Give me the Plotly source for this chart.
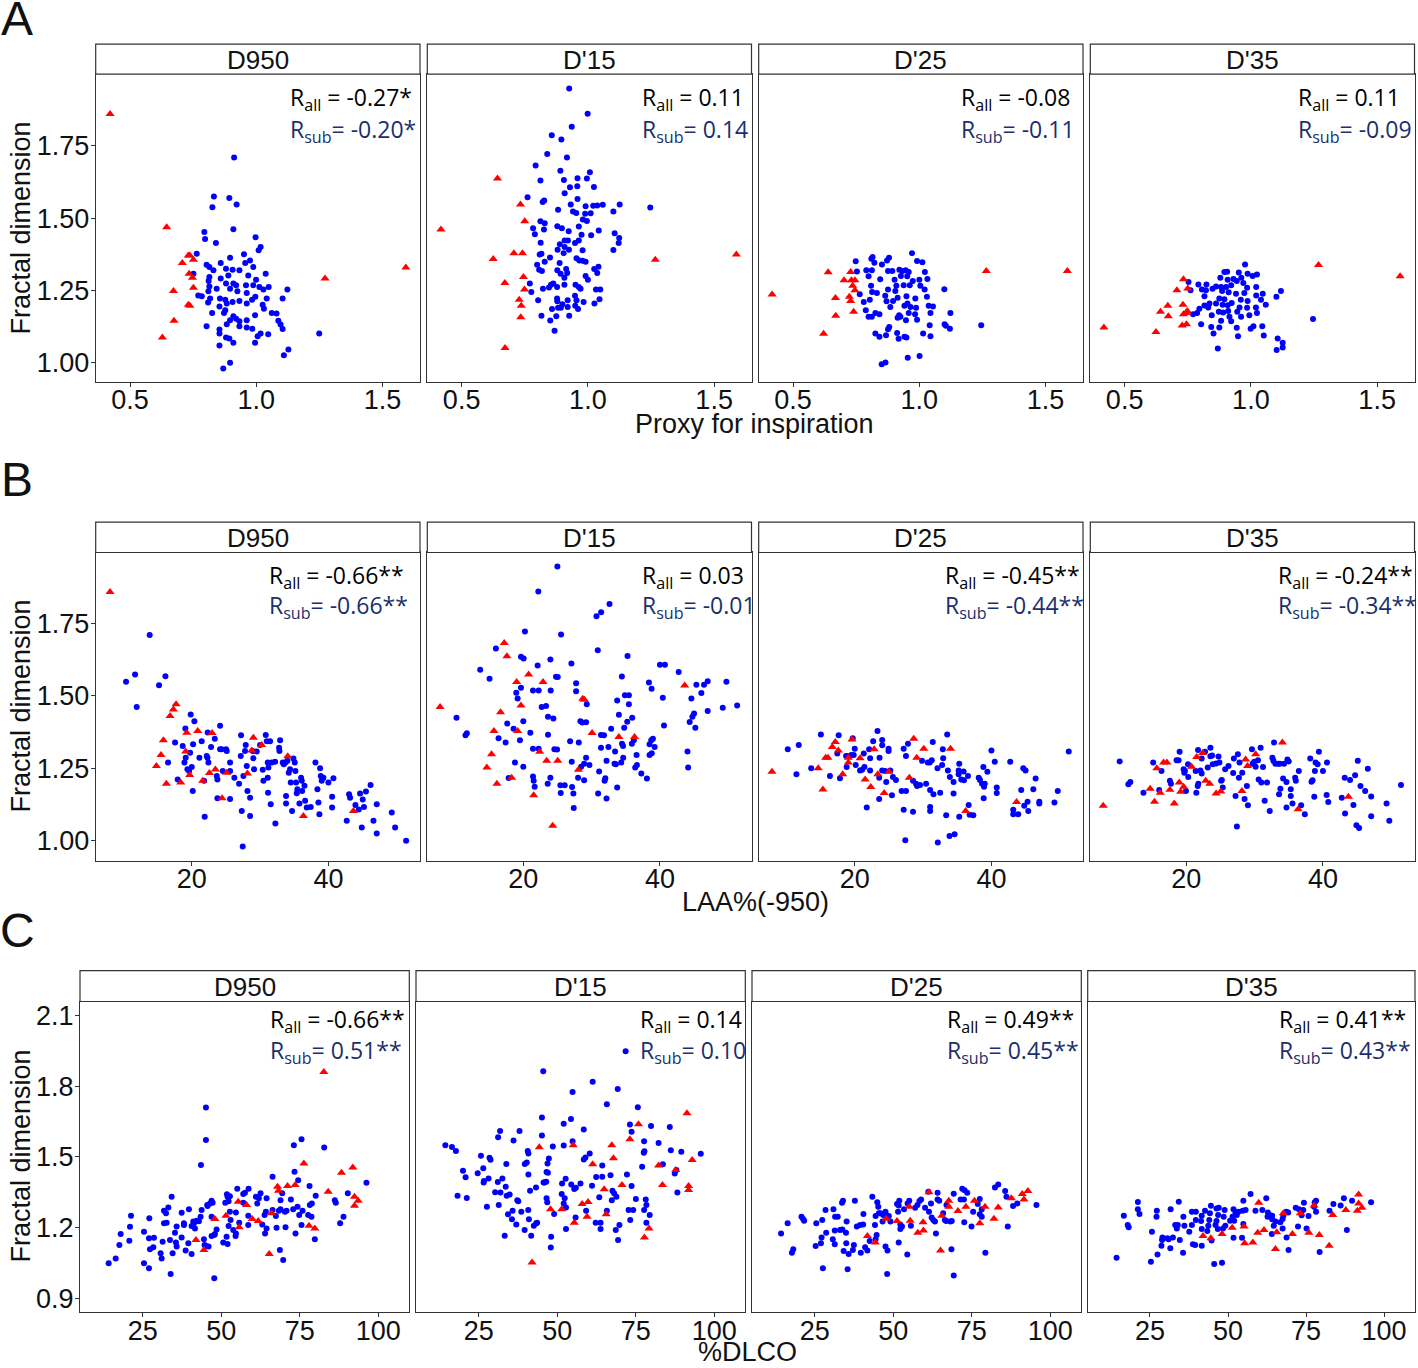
import plotly.graph_objects as go

W, H = 1418, 1368

# ---------------- data (x, fractal dimension) ----------------
A1_BLUE = [(0.912,1.710),(0.832,1.575),(0.893,1.570),(0.826,1.538),(0.922,1.547),(0.909,1.462),(0.794,1.452),(0.797,1.428),(0.840,1.414),(0.997,1.434),(1.017,1.400),(1.009,1.389),(0.764,1.377),(0.951,1.375),(0.896,1.363),(0.975,1.354),(0.956,1.345),(0.859,1.345),(0.803,1.339),(0.814,1.331),(0.751,1.308),(0.880,1.325),(0.906,1.322),(0.933,1.320),(0.988,1.331),(1.037,1.308),(0.830,1.320),(0.889,1.302),(0.814,1.297),(0.859,1.291),(0.968,1.302),(0.999,1.287),(0.811,1.283),(0.909,1.274),(0.920,1.268),(0.959,1.268),(0.814,1.264),(0.880,1.274),(0.988,1.268),(1.012,1.262),(1.049,1.262),(0.843,1.256),(0.896,1.256),(1.123,1.253),(0.810,1.247),(0.925,1.247),(0.962,1.241),(1.028,1.253),(0.996,1.228),(0.770,1.233),(0.784,1.230),(0.817,1.222),(0.877,1.218),(0.856,1.222),(0.933,1.214),(0.983,1.218),(1.041,1.222),(1.104,1.222),(0.883,1.205),(0.906,1.210),(0.962,1.205),(1.025,1.201),(0.809,1.208),(0.854,1.195),(1.030,1.187),(0.877,1.182),(1.061,1.172),(1.080,1.170),(0.825,1.172),(0.872,1.172),(0.995,1.164),(0.909,1.161),(0.962,1.147),(0.896,1.147),(0.920,1.152),(0.933,1.144),(1.087,1.145),(1.096,1.132),(0.883,1.133),(0.933,1.126),(0.962,1.122),(0.803,1.126),(0.984,1.118),(0.854,1.115),(1.104,1.117),(0.854,1.101),(1.017,1.101),(1.047,1.099),(1.005,1.092),(0.880,1.087),(0.893,1.084),(0.995,1.069),(0.909,1.069),(0.854,1.060),(1.249,1.101),(1.127,1.046),(1.109,1.026),(0.896,1.000),(0.869,0.980)]
A1_RED = [(0.421,1.860),(0.645,1.469),(0.737,1.371),(0.731,1.371),(0.707,1.345),(0.751,1.356),(0.734,1.308),(0.747,1.294),(0.672,1.248),(0.751,1.259),(0.731,1.201),(0.737,1.197),(0.674,1.145),(0.628,1.087),(1.272,1.291),(1.592,1.329)]

A2_BLUE = [(0.926,1.948),(0.999,1.861),(0.936,1.816),(0.857,1.787),(0.895,1.772),(0.839,1.722),(0.917,1.710),(0.793,1.682),(0.891,1.664),(1.008,1.659),(0.812,1.630),(0.959,1.638),(0.996,1.637),(0.905,1.632),(0.929,1.607),(0.958,1.610),(1.024,1.608),(0.908,1.586),(0.761,1.572),(0.827,1.561),(0.821,1.556),(0.959,1.566),(0.932,1.547),(0.991,1.541),(1.021,1.543),(1.037,1.544),(1.059,1.546),(1.126,1.547),(1.247,1.537),(0.882,1.529),(0.941,1.523),(0.954,1.518),(0.989,1.515),(1.011,1.517),(1.101,1.523),(0.980,1.495),(0.996,1.490),(0.812,1.489),(0.829,1.482),(0.879,1.472),(0.964,1.471),(0.897,1.465),(0.783,1.465),(0.924,1.455),(1.043,1.457),(0.826,1.461),(1.106,1.448),(0.790,1.444),(0.975,1.443),(1.013,1.441),(1.124,1.431),(0.964,1.423),(1.122,1.414),(0.813,1.415),(0.889,1.410),(0.908,1.423),(0.921,1.423),(0.908,1.400),(0.925,1.391),(0.949,1.414),(0.979,1.389),(1.101,1.390),(0.809,1.374),(0.816,1.377),(0.880,1.391),(0.904,1.379),(0.850,1.364),(0.955,1.361),(0.966,1.354),(0.979,1.353),(0.991,1.349),(0.829,1.349),(0.799,1.339),(0.888,1.345),(1.042,1.332),(0.807,1.322),(0.818,1.317),(0.879,1.320),(0.914,1.324),(1.025,1.324),(0.892,1.308),(0.907,1.294),(0.918,1.310),(0.991,1.300),(1.037,1.310),(1.000,1.287),(0.770,1.274),(0.854,1.270),(0.863,1.274),(0.878,1.262),(0.907,1.270),(0.951,1.270),(0.964,1.262),(0.822,1.256),(0.846,1.260),(0.776,1.245),(0.971,1.256),(1.032,1.253),(1.049,1.253),(0.949,1.232),(0.878,1.222),(0.803,1.216),(0.879,1.213),(0.920,1.216),(0.955,1.216),(0.983,1.210),(1.046,1.220),(1.026,1.205),(0.899,1.202),(0.882,1.190),(0.920,1.193),(0.950,1.197),(0.858,1.186),(0.893,1.190),(0.961,1.186),(0.816,1.163),(0.875,1.161),(0.926,1.163),(0.851,1.146),(0.868,1.111)]
A2_RED = [(0.418,1.461),(0.642,1.637),(0.733,1.547),(0.750,1.489),(0.707,1.379),(0.741,1.379),(0.625,1.359),(0.745,1.297),(0.671,1.276),(0.749,1.253),(0.728,1.218),(0.736,1.197),(0.734,1.157),(0.672,1.051),(1.267,1.356),(1.588,1.374)]

A3_BLUE = [(0.971,1.379),(0.815,1.366),(0.880,1.363),(0.810,1.360),(0.748,1.351),(0.991,1.352),(1.012,1.348),(0.822,1.346),(0.852,1.340),(0.872,1.354),(0.790,1.320),(0.812,1.320),(0.876,1.317),(0.893,1.317),(0.921,1.322),(0.946,1.320),(0.958,1.314),(0.933,1.317),(1.022,1.314),(0.753,1.316),(0.799,1.299),(0.927,1.300),(0.952,1.299),(0.845,1.289),(0.902,1.287),(0.974,1.283),(1.000,1.287),(1.032,1.290),(0.809,1.266),(0.909,1.266),(0.938,1.268),(0.962,1.268),(1.004,1.266),(0.764,1.237),(0.813,1.245),(0.832,1.241),(0.876,1.253),(0.905,1.248),(1.021,1.253),(1.099,1.254),(0.865,1.232),(0.914,1.225),(0.949,1.230),(0.984,1.222),(1.030,1.228),(0.870,1.213),(0.896,1.214),(0.780,1.210),(0.804,1.218),(0.885,1.193),(0.941,1.197),(0.965,1.193),(0.953,1.205),(0.987,1.190),(1.037,1.197),(1.054,1.195),(0.788,1.182),(0.826,1.172),(0.842,1.168),(0.920,1.164),(0.958,1.172),(0.983,1.168),(1.044,1.172),(1.123,1.172),(0.799,1.159),(0.812,1.159),(0.914,1.156),(0.925,1.159),(0.947,1.147),(0.991,1.149),(1.100,1.133),(1.105,1.128),(1.121,1.118),(1.245,1.130),(1.041,1.130),(0.881,1.124),(0.876,1.116),(0.826,1.101),(0.842,1.090),(0.868,1.095),(0.912,1.103),(0.941,1.090),(0.949,1.087),(0.918,1.083),(1.015,1.101),(1.044,1.092),(0.954,1.017),(1.001,1.023),(0.851,0.995),(0.866,1.001)]
A3_RED = [(0.417,1.236),(0.639,1.313),(0.728,1.314),(0.702,1.285),(0.731,1.285),(0.745,1.285),(0.736,1.266),(0.745,1.251),(0.668,1.224),(0.723,1.228),(0.728,1.214),(0.740,1.176),(0.669,1.163),(0.621,1.100),(1.265,1.317),(1.586,1.317)]

A4_BLUE = [(0.977,1.340),(0.895,1.314),(0.906,1.315),(0.952,1.312),(0.987,1.308),(1.024,1.305),(1.007,1.300),(0.879,1.294),(0.908,1.287),(0.931,1.290),(0.944,1.283),(0.962,1.294),(0.753,1.279),(0.792,1.271),(0.824,1.271),(0.862,1.264),(0.882,1.262),(0.902,1.262),(0.922,1.268),(0.970,1.276),(0.985,1.259),(1.021,1.262),(0.806,1.253),(0.822,1.251),(0.848,1.256),(0.886,1.248),(0.912,1.244),(0.941,1.239),(0.974,1.241),(1.047,1.239),(1.119,1.248),(0.761,1.251),(0.816,1.230),(0.875,1.222),(0.895,1.220),(0.960,1.218),(0.987,1.214),(1.021,1.233),(1.040,1.218),(1.101,1.228),(0.836,1.205),(0.862,1.205),(0.888,1.201),(0.908,1.199),(0.924,1.207),(1.059,1.201),(0.816,1.198),(0.796,1.187),(0.831,1.191),(0.955,1.191),(0.985,1.190),(1.020,1.191),(0.873,1.176),(0.890,1.174),(0.910,1.179),(0.946,1.176),(0.771,1.168),(0.787,1.172),(0.845,1.164),(0.915,1.159),(0.961,1.159),(0.994,1.164),(1.024,1.172),(0.803,1.133),(0.882,1.145),(0.922,1.144),(0.843,1.124),(0.875,1.122),(0.944,1.121),(0.999,1.118),(1.010,1.126),(1.045,1.126),(0.852,1.101),(0.949,1.092),(1.051,1.094),(1.246,1.151),(1.106,1.084),(1.126,1.069),(1.126,1.053),(1.102,1.044),(0.869,1.049)]
A4_RED = [(0.418,1.122),(0.624,1.106),(0.642,1.176),(0.673,1.161),(0.671,1.197),(0.707,1.251),(0.733,1.289),(0.750,1.257),(0.731,1.201),(0.733,1.168),(0.744,1.172),(0.748,1.179),(0.728,1.129),(0.745,1.133),(1.268,1.338),(1.591,1.299)]

B1_BLUE = [(13.85,1.710),(11.71,1.574),(10.39,1.549),(11.95,1.462),(15.22,1.537),(16.15,1.568),(16.54,1.270),(17.56,1.339),(17.95,1.212),(18.68,1.327),(18.93,1.270),(19.07,1.388),(19.12,1.287),(19.37,1.247),(19.61,1.241),(19.85,1.436),(19.76,1.304),(20.00,1.255),(20.20,1.333),(20.15,1.172),(20.39,1.413),(21.12,1.287),(21.46,1.344),(21.80,1.207),(21.90,1.083),(22.20,1.293),(22.30,1.287),(22.34,1.374),(22.44,1.270),(22.83,1.324),(23.37,1.352),(23.66,1.224),(23.76,1.212),(23.76,1.147),(24.15,1.397),(24.15,1.316),(24.39,1.316),(24.54,1.241),(25.02,1.316),(25.12,1.310),(25.61,1.270),(25.61,1.241),(25.61,1.144),(26.24,1.218),(26.93,1.197),(27.17,1.293),(27.22,1.364),(27.32,1.103),(27.46,0.980),(27.56,1.224),(27.80,1.310),(27.90,1.331),(28.05,1.258),(28.15,1.172),(28.54,1.149),(28.54,1.086),(28.93,1.310),(29.02,1.285),(29.12,1.247),(29.51,1.308),(30.00,1.331),(30.39,1.245),(30.49,1.207),(30.83,1.365),(30.98,1.344),(31.12,1.270),(31.12,1.218),(31.17,1.166),(31.22,1.253),(31.46,1.344),(31.56,1.126),(31.71,1.270),(32.20,1.273),(32.24,1.060),(32.78,1.321),(32.83,1.310),(32.93,1.347),(33.32,1.270),(33.46,1.264),(33.71,1.270),(33.80,1.155),(33.80,1.129),(34.00,1.276),(34.20,1.235),(34.39,1.247),(34.49,1.201),(34.68,1.103),(34.88,1.284),(35.07,1.270),(35.17,1.241),(35.27,1.201),(35.37,1.164),(35.46,1.178),(35.76,1.129),(36.00,1.218),(36.10,1.207),(36.15,1.172),(36.49,1.190),(36.59,1.138),(36.83,1.115),(37.41,1.117),(38.10,1.270),(38.39,1.178),(38.54,1.132),(38.68,1.092),(38.78,1.250),(38.88,1.224),(39.02,1.207),(39.27,1.218),(40.00,1.201),(40.73,1.216),(40.54,1.152),(40.54,1.115),(42.68,1.069),(43.02,1.161),(43.17,1.149),(43.95,1.124),(44.44,1.108),(44.63,1.163),(45.02,1.143),(44.88,1.046),(45.20,1.117),(45.49,1.170),(46.17,1.193),(46.59,1.069),(47.07,1.025),(47.07,1.126),(49.27,1.098),(49.76,1.046),(51.37,1.000)]
B1_RED = [(8.05,1.859),(17.71,1.471),(17.32,1.453),(16.83,1.431),(15.85,1.347),(15.51,1.296),(14.83,1.258),(16.29,1.197),(19.27,1.373),(19.12,1.308),(20.88,1.379),(19.71,1.227),(21.61,1.207),(18.39,1.201),(22.98,1.372),(22.59,1.234),(23.46,1.246),(25.12,1.235),(24.44,1.147),(28.15,1.232),(28.78,1.312),(29.02,1.356),(30.24,1.331),(34.05,1.292),(36.34,1.086),(43.66,1.103)]

B2_BLUE = [(24.99,1.947),(22.20,1.860),(32.62,1.817),(31.39,1.789),(30.71,1.775),(20.24,1.722),(25.53,1.712),(15.99,1.664),(30.90,1.658),(19.66,1.635),(20.05,1.629),(23.96,1.626),(27.04,1.612),(35.26,1.638),(22.10,1.605),(40.00,1.608),(40.73,1.608),(13.69,1.590),(42.74,1.583),(24.79,1.566),(25.04,1.565),(15.06,1.559),(34.43,1.567),(27.73,1.544),(38.39,1.546),(21.42,1.519),(22.25,1.519),(24.01,1.519),(19.66,1.528),(18.97,1.511),(27.73,1.516),(38.78,1.525),(34.87,1.502),(35.45,1.502),(19.17,1.491),(29.29,1.471),(33.74,1.484),(40.42,1.494),(44.60,1.491),(45.33,1.539),(46.45,1.539),(46.99,1.551),(46.06,1.510),(49.73,1.549),(22.69,1.462),(23.33,1.465),(35.45,1.471),(49.19,1.459),(51.30,1.467),(46.99,1.448),(44.99,1.439),(44.75,1.428),(23.62,1.428),(24.40,1.422),(33.99,1.435),(35.94,1.425),(10.22,1.425),(28.36,1.413),(29.19,1.409),(28.65,1.408),(20.00,1.413),(17.65,1.405),(35.21,1.411),(44.35,1.410),(45.18,1.390),(40.59,1.398),(18.58,1.387),(32.86,1.387),(34.77,1.390),(11.74,1.371),(11.54,1.364),(21.03,1.373),(31.37,1.365),(31.81,1.364),(23.62,1.366),(16.38,1.354),(17.41,1.339),(19.51,1.347),(26.85,1.344),(34.45,1.335),(34.60,1.327),(36.18,1.347),(35.89,1.335),(38.97,1.352),(38.73,1.347),(38.48,1.333),(28.12,1.339),(21.42,1.318),(22.25,1.318),(24.55,1.316),(24.94,1.315),(31.37,1.321),(32.46,1.324),(39.22,1.324),(33.43,1.308),(44.03,1.308),(34.62,1.287),(38.80,1.302),(38.48,1.296),(34.33,1.270),(36.58,1.296),(29.19,1.287),(28.90,1.266),(27.09,1.273),(32.18,1.276),(18.78,1.270),(20.00,1.256),(28.46,1.256),(29.68,1.262),(33.35,1.266),(33.55,1.264),(36.63,1.262),(36.38,1.253),(44.13,1.253),(31.10,1.239),(37.27,1.232),(17.85,1.217),(21.42,1.222),(21.52,1.207),(23.96,1.218),(28.02,1.218),(28.90,1.209),(32.00,1.216),(31.90,1.207),(38.09,1.215),(23.57,1.197),(25.43,1.192),(26.06,1.192),(27.14,1.186),(33.74,1.184),(21.66,1.187),(25.48,1.165),(27.33,1.163),(30.95,1.163),(32.18,1.146),(27.38,1.113)]
B2_RED = [(7.82,1.462),(17.21,1.683),(17.60,1.637),(19.02,1.548),(20.78,1.574),(22.89,1.548),(19.66,1.467),(16.67,1.444),(15.70,1.379),(19.17,1.379),(15.35,1.299),(14.67,1.253),(16.14,1.197),(18.29,1.218),(22.40,1.307),(23.42,1.276),(25.04,1.276),(21.52,1.157),(24.30,1.052),(28.70,1.490),(28.95,1.487),(30.07,1.372),(28.07,1.245),(33.99,1.358),(36.28,1.358),(43.62,1.536)]

B3_BLUE = [(10.20,1.316),(11.81,1.331),(11.47,1.230),(13.63,1.250),(15.05,1.367),(16.37,1.224),(17.65,1.364),(17.45,1.301),(17.84,1.216),(18.73,1.293),(18.92,1.293),(19.71,1.354),(20.00,1.318),(19.85,1.296),(19.51,1.296),(18.82,1.255),(20.15,1.262),(20.78,1.243),(21.08,1.245),(21.42,1.255),(21.32,1.301),(22.11,1.316),(22.25,1.285),(22.25,1.243),(22.70,1.344),(23.33,1.379),(24.02,1.330),(24.02,1.348),(23.63,1.287),(23.58,1.218),(23.58,1.144),(21.76,1.115),(24.02,1.243),(24.46,1.241),(24.61,1.203),(24.95,1.318),(24.95,1.310),(25.20,1.243),(25.44,1.157),(26.03,1.210),(25.59,1.220),(27.16,1.318),(27.50,1.293),(27.79,1.335),(26.86,1.172),(27.50,1.172),(27.16,1.107),(28.53,1.100),(27.40,1.002),(28.53,1.207),(28.97,1.197),(29.12,1.189),(29.56,1.193),(30.44,1.197),(29.85,1.276),(30.69,1.270),(30.98,1.270),(31.42,1.341),(31.27,1.278),(31.03,1.175),(31.03,1.117),(31.03,1.103),(32.11,1.250),(32.79,1.262),(32.89,1.316),(32.94,1.285),(32.50,1.166),(31.52,1.161),(32.16,0.994),(33.53,1.367),(33.63,1.243),(33.92,1.220),(34.46,1.203),(34.46,1.163),(33.38,1.088),(33.87,1.017),(34.61,1.023),(35.29,1.266),(35.20,1.243),(35.20,1.230),(35.59,1.212),(35.93,1.239),(35.98,1.209),(36.57,1.224),(35.29,1.083),(36.67,1.124),(36.81,1.090),(37.35,1.088),(38.14,1.218),(38.33,1.210),(38.82,1.255),(38.63,1.197),(38.92,1.187),(39.02,1.197),(39.41,1.238),(38.87,1.147),(40.00,1.312),(40.49,1.273),(40.78,1.184),(40.78,1.165),(42.75,1.273),(43.19,1.107),(43.19,1.092),(43.92,1.092),(44.80,1.121),(44.66,1.250),(45.00,1.243),(45.29,1.135),(45.39,1.103),(44.36,1.175),(46.47,1.215),(46.13,1.178),(47.01,1.135),(47.01,1.129),(49.22,1.132),(49.71,1.172),(51.32,1.308)]
B3_RED = [(7.89,1.238),(15.34,1.177),(14.66,1.250),(15.74,1.287),(16.08,1.287),(16.72,1.324),(17.16,1.341),(17.60,1.312),(19.61,1.350),(19.07,1.287),(19.07,1.270),(18.24,1.230),(20.78,1.285),(22.84,1.316),(21.52,1.212),(22.35,1.186),(23.38,1.230),(24.31,1.165),(25.00,1.238),(27.99,1.218),(28.63,1.352),(30.10,1.318),(29.07,1.287),(34.02,1.318),(36.23,1.103),(43.68,1.134)]

B4_BLUE = [(10.25,1.274),(11.52,1.195),(11.81,1.203),(13.73,1.166),(15.15,1.270),(16.03,1.175),(16.37,1.241),(17.60,1.207),(17.75,1.197),(18.58,1.278),(18.87,1.278),(19.02,1.307),(19.61,1.247),(19.80,1.241),(19.71,1.235),(20.25,1.264),(19.95,1.172),(20.29,1.220),(21.37,1.241),(21.72,1.313),(21.67,1.189),(21.76,1.197),(22.06,1.243),(22.25,1.232),(22.25,1.284),(21.47,1.166),(22.75,1.307),(23.14,1.253),(23.53,1.321),(23.53,1.292),(23.77,1.294),(23.87,1.264),(24.36,1.267),(24.71,1.291),(24.85,1.270),(25.10,1.207),(25.20,1.210),(25.34,1.184),(25.69,1.247),(26.18,1.258),(26.96,1.284),(26.86,1.234),(27.21,1.155),(27.40,1.049),(27.55,1.299),(27.70,1.218),(27.79,1.270),(28.19,1.235),(28.53,1.144),(28.87,1.189),(29.02,1.123),(29.61,1.316),(29.71,1.266),(29.95,1.273),(30.15,1.256),(30.49,1.278),(30.88,1.321),(30.59,1.212),(30.98,1.201),(31.23,1.255),(31.47,1.138),(31.81,1.201),(32.21,1.103),(32.60,1.287),(32.84,1.339),(32.75,1.276),(33.04,1.266),(33.43,1.266),(33.68,1.266),(33.58,1.161),(33.77,1.180),(34.17,1.215),(34.31,1.266),(34.66,1.203),(34.80,1.281),(35.00,1.274),(34.66,1.115),(35.29,1.178),(35.29,1.155),(35.54,1.129),(35.93,1.218),(36.03,1.207),(36.81,1.123),(37.35,1.092),(36.47,1.241),(38.14,1.284),(38.33,1.204),(38.48,1.209),(38.82,1.241),(38.92,1.270),(39.22,1.264),(39.41,1.307),(38.73,1.152),(40.00,1.241),(40.59,1.270),(40.54,1.158),(40.78,1.134),(42.75,1.149),(43.19,1.218),(43.24,1.094),(43.97,1.210),(44.46,1.124),(44.71,1.226),(45.10,1.276),(45.49,1.189),(44.90,1.054),(45.29,1.044),(46.18,1.172),(46.57,1.249),(47.06,1.153),(47.06,1.085),(49.31,1.129),(49.71,1.069),(51.42,1.193)]
B4_RED = [(7.84,1.121),(14.71,1.180),(15.34,1.135),(15.69,1.250),(16.18,1.166),(16.67,1.270),(17.16,1.270),(17.60,1.176),(18.24,1.129),(18.97,1.201),(19.17,1.169),(19.61,1.187),(20.78,1.256),(21.52,1.289),(22.40,1.303),(22.84,1.207),(23.43,1.197),(24.36,1.163),(25.05,1.170),(28.14,1.172),(28.68,1.281),(28.97,1.258),(30.15,1.299),(34.07,1.339),(36.37,1.109),(43.73,1.152)]

C1_BLUE = [(45.15,1.709),(45.15,1.571),(43.56,1.465),(75.58,1.575),(73.14,1.549),(82.80,1.540),(73.35,1.437),(74.52,1.401),(66.36,1.415),(96.26,1.390),(78.13,1.376),(80.10,1.335),(90.32,1.345),(86.19,1.316),(86.50,1.305),(68.90,1.316),(72.19,1.319),(69.43,1.345),(58.72,1.364),(57.56,1.348),(55.12,1.364),(51.83,1.341),(52.04,1.331),(52.78,1.333),(61.06,1.331),(62.00,1.324),(62.54,1.345),(64.45,1.324),(61.48,1.302),(57.02,1.305),(51.30,1.305),(52.36,1.311),(46.95,1.314),(45.57,1.295),(47.27,1.305),(34.23,1.331),(33.17,1.285),(31.79,1.271),(32.43,1.260),(37.41,1.263),(39.74,1.277),(43.77,1.274),(52.78,1.267),(54.69,1.264),(58.62,1.250),(58.62,1.211),(64.24,1.267),(63.82,1.253),(63.08,1.213),(66.36,1.274),(68.37,1.271),(68.90,1.277),(70.28,1.267),(70.81,1.271),(72.93,1.277),(74.31,1.288),(74.84,1.253),(75.90,1.271),(77.70,1.253),(78.76,1.246),(78.23,1.295),(78.87,1.302),(21.29,1.250),(20.97,1.203),(20.76,1.144),(18.00,1.172),(17.58,1.126),(16.41,1.069),(14.18,1.048),(25.42,1.182),(25.42,1.048),(27.01,1.027),(27.01,1.154),(27.33,1.108),(28.39,1.116),(28.60,1.157),(27.12,1.239),(30.73,1.091),(31.04,1.069),(31.36,1.140),(31.79,1.218),(32.64,1.220),(33.70,1.147),(33.91,1.003),(34.54,1.091),(35.29,1.178),(35.60,1.136),(35.82,1.204),(35.82,1.119),(37.41,1.158),(38.15,1.211),(38.15,1.218),(38.68,1.102),(39.53,1.133),(40.59,1.088),(40.59,1.206),(41.12,1.225),(41.33,1.218),(41.65,1.196),(42.18,1.229),(42.92,1.227),(43.45,1.246),(44.51,1.150),(44.72,1.126),(45.15,1.122),(45.99,1.119),(45.67,1.291),(46.42,1.302),(46.95,1.246),(46.95,1.164),(47.80,1.168),(48.01,1.172),(48.54,1.192),(47.80,0.985),(50.66,1.136),(51.72,1.161),(52.04,1.130),(52.36,1.206),(52.99,1.232),(53.84,1.189),(54.58,1.164),(54.69,1.175),(55.75,1.220),(57.02,1.342),(63.97,1.175),(64.45,1.196),(67.42,1.249),(67.63,1.199),(68.69,1.105),(69.75,1.062),(70.49,1.201),(73.67,1.175),(75.58,1.211),(79.82,1.150),(87.88,1.218),(88.95,1.246)]
C1_RED = [(82.69,1.860),(76.33,1.472),(91.91,1.455),(88.31,1.432),(92.44,1.331),(93.61,1.314),(92.44,1.292),(84.07,1.352),(73.57,1.380),(71.13,1.376),(67.95,1.373),(68.27,1.356),(66.04,1.260),(65.30,1.088),(58.09,1.295),(55.43,1.309),(55.75,1.201),(59.89,1.236),(61.80,1.228),(77.97,1.208),(79.82,1.196),(51.51,1.250),(48.01,1.236),(41.97,1.147),(44.51,1.105)]

C2_BLUE = [(45.57,1.863),(61.31,1.819),(69.28,1.788),(54.91,1.775),(65.82,1.723),(75.68,1.710),(71.80,1.948),(45.15,1.667),(54.39,1.660),(52.08,1.640),(31.82,1.609),(38.01,1.610),(31.19,1.583),(36.10,1.569),(45.15,1.590),(52.08,1.548),(54.91,1.566),(58.47,1.616),(73.16,1.637),(73.69,1.606),(79.88,1.631),(85.86,1.627),(77.68,1.566),(82.29,1.559),(86.18,1.528),(89.53,1.521),(95.72,1.513),(14.40,1.549),(16.50,1.542),(17.76,1.525),(25.73,1.504),(28.46,1.496),(28.78,1.487),(33.81,1.469),(40.63,1.525),(40.84,1.514),(48.61,1.544),(47.35,1.493),(46.93,1.472),(40.31,1.476),(39.69,1.469),(59.00,1.497),(58.47,1.489),(60.36,1.514),(64.35,1.463),(77.78,1.524),(77.57,1.517),(77.05,1.458),(83.65,1.468),(87.43,1.429),(87.96,1.444),(88.27,1.349),(20.01,1.441),(20.85,1.413),(24.69,1.430),(26.47,1.451),(26.68,1.397),(26.58,1.391),(28.15,1.408),(31.09,1.393),(32.56,1.408),(33.61,1.373),(31.93,1.349),(30.25,1.350),(18.28,1.335),(21.22,1.325),(27.62,1.288),(31.40,1.295),(33.92,1.335),(34.87,1.340),(37.30,1.316),(37.61,1.311),(40.84,1.425),(41.37,1.356),(43.26,1.370),(45.67,1.391),(45.99,1.391),(47.04,1.432),(46.62,1.436),(46.51,1.394),(51.55,1.387),(52.70,1.407),(51.44,1.342),(52.39,1.324),(52.08,1.302),(52.81,1.285),(54.49,1.383),(55.43,1.363),(55.96,1.369),(57.42,1.387),(61.10,1.377),(62.42,1.414),(64.35,1.415),(66.98,1.422),(68.12,1.345),(67.60,1.356),(67.39,1.316),(68.85,1.331),(72.21,1.425),(73.69,1.376),(75.05,1.321),(63.40,1.328),(46.62,1.324),(46.84,1.307),(49.03,1.257),(35.80,1.271),(35.60,1.235),(34.34,1.256),(36.99,1.213),(33.29,1.165),(38.59,1.267),(39.64,1.189),(40.79,1.274),(41.00,1.235),(42.57,1.208),(43.31,1.218),(43.62,1.220),(41.73,1.165),(48.08,1.161),(47.98,1.115),(52.81,1.194),(55.85,1.243),(59.21,1.271),(62.25,1.220),(63.82,1.220),(63.82,1.194),(65.82,1.271),(69.81,1.211),(68.65,1.189),(69.39,1.147),(72.74,1.274),(74.21,1.274),(73.26,1.232),(77.68,1.274),(78.41,1.295),(78.20,1.319),(79.46,1.253),(78.41,1.220)]
C2_RED = [(91.32,1.685),(75.89,1.638),(73.16,1.575),(67.39,1.549),(67.92,1.494),(55.12,1.549),(44.31,1.541),(61.31,1.468),(82.29,1.463),(92.99,1.486),(87.75,1.444),(83.54,1.380),(91.84,1.376),(91.84,1.359),(70.64,1.380),(64.98,1.362),(59.84,1.308),(57.95,1.300),(47.88,1.277),(51.44,1.278),(59.52,1.246),(65.61,1.256),(55.43,1.220),(79.25,1.196),(77.78,1.158),(42.00,1.052)]

C3_BLUE = [(83.45,1.383),(82.40,1.370),(85.65,1.355),(86.07,1.331),(89.53,1.302),(88.17,1.291),(95.62,1.295),(86.48,1.204),(79.35,1.093),(72.00,1.364),(72.74,1.358),(73.58,1.347),(69.28,1.343),(64.14,1.348),(71.48,1.319),(72.53,1.319),(77.57,1.321),(76.94,1.300),(78.20,1.278),(77.57,1.256),(78.20,1.246),(75.47,1.267),(74.95,1.204),(72.64,1.222),(68.65,1.228),(68.23,1.225),(66.97,1.295),(65.92,1.260),(64.66,1.314),(64.14,1.319),(62.04,1.302),(61.20,1.352),(58.89,1.319),(58.37,1.312),(57.74,1.295),(61.41,1.267),(62.25,1.242),(62.77,1.232),(63.30,1.225),(66.45,1.232),(66.87,1.228),(63.62,1.175),(68.55,1.108),(69.28,0.996),(60.15,1.284),(55.12,1.314),(54.59,1.302),(51.94,1.314),(51.23,1.300),(51.76,1.293),(51.55,1.267),(53.44,1.277),(56.99,1.284),(55.64,1.208),(52.28,1.213),(52.81,1.204),(52.28,1.194),(54.49,1.086),(51.76,1.136),(48.61,1.249),(49.13,1.225),(46.62,1.225),(45.46,1.260),(45.99,1.260),(45.25,1.288),(44.94,1.307),(43.36,1.331),(44.41,1.249),(44.20,1.211),(44.73,1.168),(44.41,1.150),(42.52,1.143),(41.79,1.102),(41.06,1.116),(40.43,1.213),(40.53,1.257),(39.48,1.211),(38.43,1.204),(37.80,1.314),(37.49,1.126),(39.69,1.093),(37.17,1.105),(35.81,1.088),(34.97,1.178),(35.07,1.133),(35.18,1.225),(35.49,1.023),(34.23,1.100),(34.02,1.314),(33.71,1.305),(33.81,1.192),(33.08,1.189),(32.35,1.246),(31.51,1.246),(31.40,1.187),(30.98,1.277),(30.77,1.150),(31.40,1.129),(28.67,1.178),(28.46,1.274),(27.41,1.232),(27.20,1.158),(27.00,1.133),(25.52,1.218),(25.31,1.122),(27.62,1.027),(21.33,1.236),(20.80,1.246),(21.64,1.229),(16.40,1.218),(14.30,1.175),(18.18,1.108),(17.76,1.093),(48.08,1.003),(47.56,1.119),(48.19,1.102),(46.83,1.253),(47.56,1.267)]
C3_RED = [(92.89,1.355),(91.63,1.319),(91.11,1.342),(87.64,1.324),(83.45,1.285),(82.08,1.237),(79.25,1.288),(77.57,1.218),(75.89,1.314),(73.16,1.288),(70.64,1.270),(67.71,1.314),(67.71,1.288),(65.50,1.250),(61.41,1.350),(55.12,1.288),(55.43,1.229),(59.52,1.222),(59.63,1.187),(57.84,1.178),(51.23,1.228),(47.77,1.237),(41.79,1.164),(44.31,1.136),(65.08,1.102)]

C4_BLUE = [(95.83,1.307),(89.74,1.314),(87.12,1.324),(86.07,1.293),(83.76,1.300),(88.07,1.189),(82.50,1.271),(78.20,1.314),(77.78,1.307),(77.57,1.288),(78.20,1.267),(74.32,1.305),(74.11,1.274),(72.74,1.278),(71.69,1.284),(73.58,1.252),(72.42,1.204),(75.79,1.249),(75.16,1.196),(68.65,1.267),(69.28,1.264),(67.71,1.250),(67.50,1.236),(66.76,1.222),(67.50,1.196),(68.76,1.158),(69.39,1.105),(79.35,1.096),(62.25,1.324),(62.77,1.264),(63.51,1.252),(64.14,1.250),(62.67,1.246),(64.14,1.235),(65.19,1.225),(64.66,1.208),(64.03,1.172),(60.99,1.274),(58.79,1.271),(57.22,1.342),(54.91,1.314),(55.64,1.274),(54.70,1.271),(53.33,1.267),(52.39,1.263),(52.81,1.253),(51.76,1.277),(51.44,1.246),(51.97,1.229),(54.91,1.215),(50.66,1.229),(48.92,1.274),(48.61,1.246),(48.40,1.196),(51.76,1.157),(54.49,1.157),(49.13,1.208),(46.30,1.281),(47.04,1.284),(46.83,1.253),(46.30,1.228),(45.99,1.211),(46.72,1.194),(44.52,1.292),(44.20,1.260),(43.99,1.232),(43.68,1.208),(43.36,1.185),(44.73,1.145),(42.63,1.271),(41.58,1.250),(41.37,1.228),(41.58,1.194),(41.58,1.123),(39.69,1.267),(39.69,1.232),(38.43,1.267),(38.43,1.211),(37.59,1.182),(38.75,1.129),(39.48,1.126),(45.57,1.045),(48.08,1.051),(35.70,1.246),(36.02,1.208),(35.60,1.093),(34.55,1.147),(34.23,1.309),(33.92,1.211),(33.60,1.196),(33.08,1.211),(31.61,1.278),(32.35,1.158),(31.51,1.112),(30.98,1.150),(30.56,1.154),(28.99,1.158),(28.88,1.147),(28.67,1.123),(27.41,1.086),(27.10,1.246),(27.20,1.271),(25.63,1.182),(25.31,1.055),(21.64,1.257),(21.12,1.278),(21.12,1.308),(17.87,1.211),(18.18,1.201),(16.61,1.250),(14.30,1.072)]
C4_RED = [(91.84,1.340),(91.84,1.302),(92.89,1.284),(91.42,1.271),(87.75,1.274),(83.55,1.253),(77.57,1.293),(73.16,1.260),(67.71,1.260),(59.84,1.305),(55.12,1.204),(51.34,1.199),(61.52,1.189),(59.52,1.178),(65.61,1.180),(70.64,1.172),(75.89,1.178),(79.25,1.168),(82.40,1.123),(65.19,1.109),(57.95,1.136),(55.33,1.133),(48.08,1.172),(44.52,1.154),(42.00,1.164)]

PANEL_TITLES = ["D950", "D'15", "D'25", "D'35"]
ROW_LETTERS = ["A", "B", "C"]
X_TITLES = ["Proxy for inspiration", "LAA%(-950)", "%DLCO"]
Y_TITLE = "Fractal dimension"
R_ALL = [["-0.27*", "0.11", "-0.08", "0.11"],
         ["-0.66**", "0.03", "-0.45**", "-0.24**"],
         ["-0.66**", "0.14", "0.49**", "0.41**"]]
R_SUB = [["-0.20*", "0.14", "-0.11", "-0.09"],
         ["-0.66**", "-0.01", "-0.44**", "-0.34**"],
         ["0.51**", "0.10", "0.45**", "0.43**"]]
X_TICKS = [[0.5, 1.0, 1.5], [20, 40], [25, 50, 75, 100]]
X_TICKTEXT = [["0.5", "1.0", "1.5"], ["20", "40"], ["25", "50", "75", "100"]]
Y_TICKS = [[1.0, 1.25, 1.5, 1.75], [1.0, 1.25, 1.5, 1.75], [0.9, 1.2, 1.5, 1.8, 2.1]]
Y_TICKTEXT = [["1.00", "1.25", "1.50", "1.75"], ["1.00", "1.25", "1.50", "1.75"],
              ["0.9", "1.2", "1.5", "1.8", "2.1"]]

DATA = [[(A1_BLUE, A1_RED), (A2_BLUE, A2_RED), (A3_BLUE, A3_RED), (A4_BLUE, A4_RED)],
        [(B1_BLUE, B1_RED), (B2_BLUE, B2_RED), (B3_BLUE, B3_RED), (B4_BLUE, B4_RED)],
        [(C1_BLUE, C1_RED), (C2_BLUE, C2_RED), (C3_BLUE, C3_RED), (C4_BLUE, C4_RED)]]

# ---------------- layout geometry (pixels) ----------------
XDOM_AB = [(95.7, 420), (427.3, 751.5), (758.7, 1083), (1090.3, 1414.5)]
XDOM_C = [(80, 409.3), (416, 745.3), (752, 1081.3), (1087.7, 1415)]
ROWS = [
    dict(xdom=XDOM_AB, strip_top=43.3, top=73.3, bot=381.7, xr=[0.364, 1.648], yr=[0.934, 1.998],
         ann_left=[288, 640, 959, 1296], ann_y=[95, 127], ylab_y=228, xt_x=755, xt_y=424, let_y=18),
    dict(xdom=XDOM_AB, strip_top=522.3, top=552.7, bot=861.7, xr=[5.95, 53.4], yr=[0.931, 1.995],
         ann_left=[267, 640, 943, 1276], ann_y=[574, 604], ylab_y=707, xt_x=756, xt_y=903, let_y=480),
    dict(xdom=XDOM_C, strip_top=971.7, top=1002.7, bot=1314, xr=[5.05, 109.9], yr=[0.841, 2.159],
         ann_left=[268, 638, 945, 1277], ann_y=[1019, 1050], ylab_y=1158, xt_x=748, xt_y=1354, let_y=932),
]

AX_FONT = "Liberation Sans, Arial, sans-serif"
R_FONT = "Open Sans, sans-serif"
FRAME = "#333333"
TXT = "#111111"


def fx(p):
    return p / W


def fy(p):
    return 1 - p / H


fig = go.Figure()
layout = {}
shapes = []
annotations = []

idx = 0
for r, row in enumerate(ROWS):
    for c in range(4):
        idx += 1
        sfx = "" if idx == 1 else str(idx)
        blue, red = DATA[r][c]
        fig.add_trace(go.Scatter(
            x=[p[0] for p in blue], y=[p[1] for p in blue], mode="markers",
            marker=dict(color="#0000FF", size=6, symbol="circle"),
            xaxis="x" + sfx, yaxis="y" + sfx, showlegend=False, hoverinfo="skip"))
        fig.add_trace(go.Scatter(
            x=[p[0] for p in red], y=[p[1] for p in red], mode="markers",
            marker=dict(color="#FF0000", size=8, symbol="triangle-up"),
            xaxis="x" + sfx, yaxis="y" + sfx, showlegend=False, hoverinfo="skip"))
        l, rr = row["xdom"][c]
        layout["xaxis" + sfx] = dict(
            domain=[fx(l), fx(rr)], range=row["xr"], anchor="y" + sfx,
            showline=True, mirror=True, linecolor=FRAME, linewidth=1.2,
            ticks="outside", ticklen=4, tickcolor=FRAME, tickwidth=1.2,
            tickvals=X_TICKS[r], ticktext=X_TICKTEXT[r], ticklabelstandoff=-10,
            tickfont=dict(family=AX_FONT, size=27, color=TXT),
            showgrid=False, zeroline=False)
        layout["yaxis" + sfx] = dict(
            domain=[fy(row["bot"]), fy(row["top"])], range=row["yr"], anchor="x" + sfx,
            showline=True, mirror=True, linecolor=FRAME, linewidth=1.2,
            ticks="outside" if c == 0 else "", ticklen=4, tickcolor=FRAME, tickwidth=1.2,
            tickvals=Y_TICKS[r], ticktext=Y_TICKTEXT[r], showticklabels=(c == 0),
            ticklabelstandoff=-4,
            tickfont=dict(family=AX_FONT, size=27, color=TXT),
            showgrid=False, zeroline=False)
        # strip
        shapes.append(dict(type="rect", xref="paper", yref="paper",
                           x0=fx(l), x1=fx(rr), y0=fy(row["top"]), y1=fy(row["strip_top"]),
                           line=dict(color=FRAME, width=1.2), fillcolor="white", layer="above"))
        annotations.append(dict(xref="paper", yref="paper", x=fx((l + rr) / 2),
                                y=fy((row["top"] + row["strip_top"]) / 2 + 1),
                                text=PANEL_TITLES[c], showarrow=False, xanchor="center", yanchor="middle",
                                font=dict(family=AX_FONT, size=26, color=TXT)))
        # correlation labels
        annotations.append(dict(xref="paper", yref="paper", x=fx(row["ann_left"][c]), y=fy(row["ann_y"][0] + 3),
                                text="R<sub>all</sub> = " + R_ALL[r][c], showarrow=False,
                                xanchor="left", yanchor="middle",
                                font=dict(family=R_FONT, size=23, color="#000000")))
        annotations.append(dict(xref="paper", yref="paper", x=fx(row["ann_left"][c]), y=fy(row["ann_y"][1] + 3),
                                text="R<sub>sub</sub>= " + R_SUB[r][c], showarrow=False,
                                xanchor="left", yanchor="middle",
                                font=dict(family=R_FONT, size=23, color="#1A2F6B")))
    # row-level labels
    annotations.append(dict(xref="paper", yref="paper", x=fx(21), y=fy(row["ylab_y"]),
                            text=Y_TITLE, textangle=-90, showarrow=False,
                            xanchor="center", yanchor="middle",
                            font=dict(family=AX_FONT, size=27, color=TXT)))
    annotations.append(dict(xref="paper", yref="paper", x=fx(row["xt_x"]), y=fy(row["xt_y"]),
                            text=X_TITLES[r], showarrow=False, xanchor="center", yanchor="middle",
                            font=dict(family=AX_FONT, size=27, color=TXT)))
    annotations.append(dict(xref="paper", yref="paper", x=fx(17), y=fy(row["let_y"]),
                            text=ROW_LETTERS[r], showarrow=False, xanchor="center", yanchor="middle",
                            font=dict(family=AX_FONT, size=48, color=TXT)))

fig.update_layout(width=W, height=H, margin=dict(l=0, r=0, t=0, b=0),
                  paper_bgcolor="white", plot_bgcolor="white",
                  shapes=shapes, annotations=annotations, showlegend=False, **layout)

fig.write_html("out.html", config={"displayModeBar": False},
               post_script="document.body.style.margin='0px';document.body.style.overflow='hidden';")
